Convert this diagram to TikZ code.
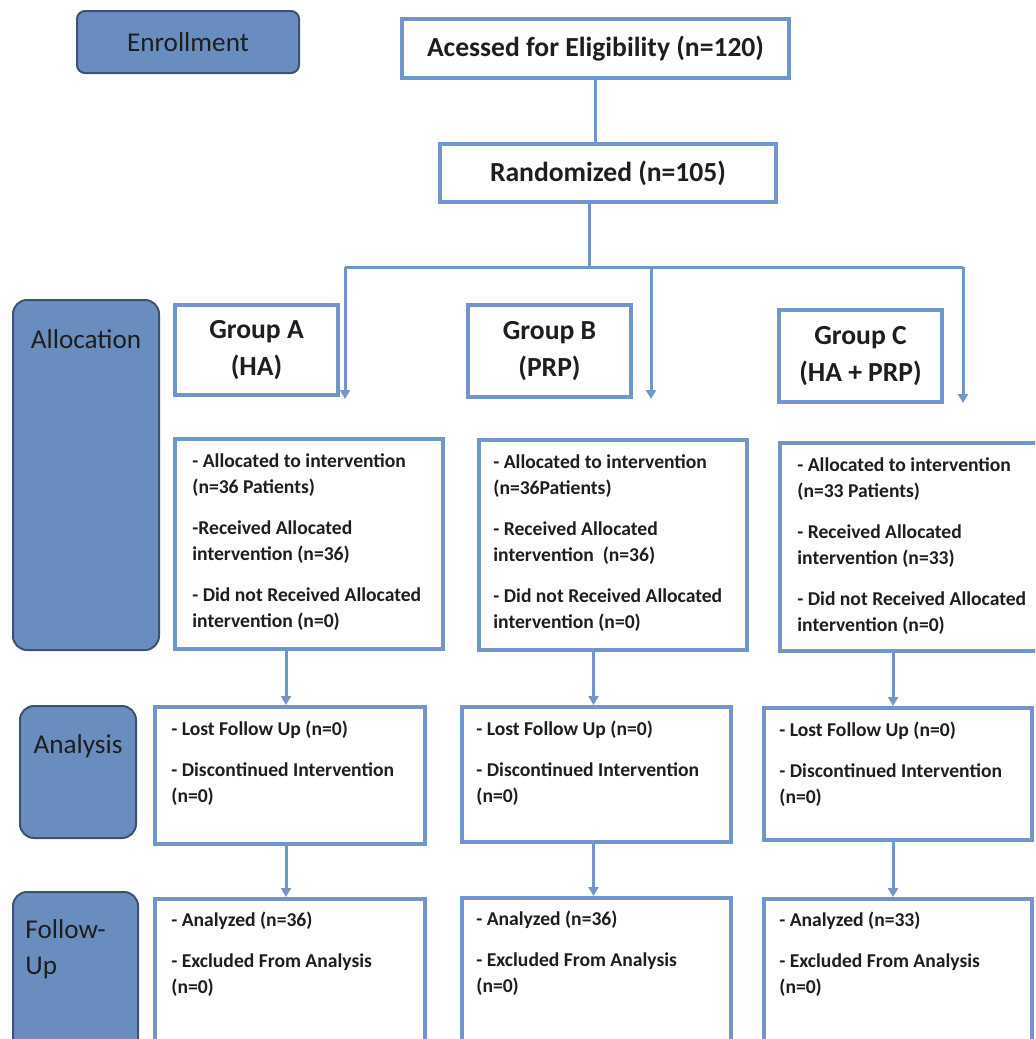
\documentclass[tikz,border=0pt]{standalone}
\usepackage{fontspec}
\setmainfont{Carlito}
\usepackage{tikz}
\usetikzlibrary{positioning, arrows.meta}

\definecolor{linkblue}{RGB}{112,150,204}
\definecolor{stagefill}{RGB}{106,141,192}
\definecolor{stageline}{RGB}{62,82,112}
\definecolor{inkgray}{RGB}{30,30,30}

\begin{document}
\begin{tikzpicture}[x=0.5pt, y=-0.5pt, >={Triangle[width=5pt,length=4.5pt]},
        every node/.style={text=inkgray, inner sep=0pt},
        stagebox/.style={draw=stageline, fill=stagefill, line width=1pt, rounded corners=7pt, anchor=north west},
        stagetext/.style={font=\fontsize{13.6}{18}\selectfont, align=left},
        whitebox/.style={draw=linkblue, fill=white, line width=2pt, anchor=north west},
        titlebox/.style={whitebox, font=\bfseries\fontsize{13.8}{18.5}\selectfont, align=center},
        bodytext/.style={font=\bfseries\fontsize{9.8}{13}\selectfont, align=left},
        link/.style={draw=linkblue, line width=1.5pt}]
        \path[use as bounding box, fill=white] (0,0) rectangle (1035,1039);
        \clip (0,0) rectangle (1035,1039);

        % stages on the left
        \node[stagebox, rounded corners=4pt, minimum width=111pt, minimum height=31pt, font=\fontsize{13.6}{18}\selectfont] (enroll) at (76,10) {Enrollment};
        \node[stagebox, minimum width=73pt, minimum height=175pt] (salloc) at (12,299) {};
        \node[stagebox, minimum width=58pt, minimum height=66pt] (sanal) at (19,705) {};
        \node[stagebox, minimum width=62.5pt, minimum height=100pt] (sfollow) at (12,891) {};
        \node[stagetext, below=15pt of salloc.north] (salloctxt) {Allocation};
        \node[stagetext, below=14.5pt of sanal.north] (sanaltxt) {Analysis};
        \node[stagetext, below right=14pt and 6.5pt of sfollow.north west] (sfollowtxt) {Follow-\\Up};

        % top of the flow
        \node[titlebox, minimum width=193.5pt, minimum height=29.5pt] (elig) at (400,17) {Acessed for Eligibility (n=120)};
        \node[titlebox, minimum width=168pt, minimum height=29pt] (rand) at (438,142) {Randomized (n=105)};

        % groups
        \node[titlebox, minimum width=81.5pt, minimum height=45pt] (grpA) at (173,303) {Group A\\(HA)};
        \node[titlebox, minimum width=81.5pt, minimum height=46pt] (grpB) at (466,303) {Group B\\(PRP)};
        \node[titlebox, minimum width=81.5pt, minimum height=46pt] (grpC) at (777,308) {Group C\\(HA + PRP)};

        % allocation
        \node[whitebox, minimum width=134pt, minimum height=105pt] (alA) at (173,437) {};
        \node[whitebox, minimum width=134pt, minimum height=105pt] (alB) at (477,438) {};
        \node[whitebox, minimum width=136pt, minimum height=104pt] (alC) at (778,441) {};
        \node[bodytext, below right=8pt and 9.5pt of alA.north west] (alAtxt) {- Allocated to intervention\\(n=36 Patients)\\[7.5pt]-Received Allocated\\intervention (n=36)\\[7.5pt]- Did not Received Allocated\\intervention (n=0)};
        \node[bodytext, below right=8pt and 8pt of alB.north west] (alBtxt) {- Allocated to intervention\\(n=36Patients)\\[7.5pt]- Received Allocated\\intervention\ \ (n=36)\\[7.5pt]- Did not Received Allocated\\intervention (n=0)};
        \node[bodytext, below right=8pt and 9.5pt of alC.north west] (alCtxt) {- Allocated to intervention\\(n=33 Patients)\\[7.5pt]- Received Allocated\\intervention (n=33)\\[7.5pt]- Did not Received Allocated\\intervention (n=0)};

        % analysis
        \node[whitebox, minimum width=135pt, minimum height=68.5pt] (anA) at (153,705) {};
        \node[whitebox, minimum width=134.5pt, minimum height=67.5pt] (anB) at (460,705) {};
        \node[whitebox, minimum width=134pt, minimum height=66pt] (anC) at (762,706) {};
        \node[bodytext, below right=8pt and 9pt of anA.north west] (anAtxt) {- Lost Follow Up (n=0)\\[7.5pt]- Discontinued Intervention\\(n=0)};
        \node[bodytext, below right=8pt and 8pt of anB.north west] (anBtxt) {- Lost Follow Up (n=0)\\[7.5pt]- Discontinued Intervention\\(n=0)};
        \node[bodytext, below right=8pt and 8.5pt of anC.north west] (anCtxt) {- Lost Follow Up (n=0)\\[7.5pt]- Discontinued Intervention\\(n=0)};

        % follow-up
        \node[whitebox, minimum width=135pt, minimum height=100pt] (fuA) at (153,897) {};
        \node[whitebox, minimum width=134.5pt, minimum height=100pt] (fuB) at (460,896) {};
        \node[whitebox, minimum width=134pt, minimum height=100pt] (fuC) at (762,897) {};
        \node[bodytext, below right=7.5pt and 9pt of fuA.north west] (fuAtxt) {- Analyzed (n=36)\\[7.5pt]- Excluded From Analysis\\(n=0)};
        \node[bodytext, below right=7.5pt and 8pt of fuB.north west] (fuBtxt) {- Analyzed (n=36)\\[7.5pt]- Excluded From Analysis\\(n=0)};
        \node[bodytext, below right=7.5pt and 8.5pt of fuC.north west] (fuCtxt) {- Analyzed (n=33)\\[7.5pt]- Excluded From Analysis\\(n=0)};

        % split after randomisation
        \coordinate (split) at (589,267);
        \coordinate (brA) at (345,267);
        \coordinate (brB) at (651,267);
        \coordinate (brC) at (963,267);
        \coordinate (tipA) at (345,399);
        \coordinate (tipB) at (651,399);
        \coordinate (tipC) at (963,403);

        \draw[link] (elig.south) -- (elig.south |- rand.north);
        \draw[link] (rand.south -| split) -- (split);
        \draw[link] (brA) -- (brC);
        \draw[link, ->] (brA) -- (tipA);
        \draw[link, ->] (brB) -- (tipB);
        \draw[link, ->] (brC) -- (tipC);

        \draw[link, ->] ([xshift=-2pt]anA.north |- alA.south) -- ([xshift=-2pt]anA.north);
        \draw[link, ->] ([xshift=-1.5pt]anB.north |- alB.south) -- ([xshift=-1.5pt]anB.north);
        \draw[link, ->] ([xshift=-2.5pt]anC.north |- alC.south) -- ([xshift=-2.5pt]anC.north);
        \draw[link, ->] ([xshift=-2pt]anA.south) -- ([xshift=-2pt]fuA.north);
        \draw[link, ->] ([xshift=-1.5pt]anB.south) -- ([xshift=-1.5pt]fuB.north);
        \draw[link, ->] ([xshift=-2.5pt]anC.south) -- ([xshift=-2.5pt]fuC.north);
    \end{tikzpicture}
\end{document}
